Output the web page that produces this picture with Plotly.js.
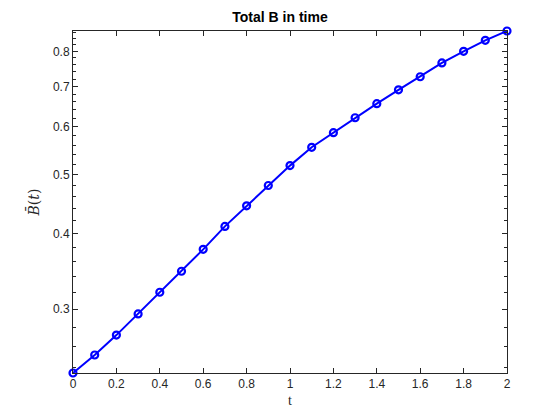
<!DOCTYPE html>
<html>
<head>
<meta charset="utf-8">
<script src="https://cdn.plot.ly/plotly-3.0.1.min.js"></script>
<style>html,body{margin:0;padding:0;background:#fff;}#chart{width:560px;height:420px;}</style>
</head>
<body>
<div id="chart"></div>
<script>
const tValues = [0, 0.1, 0.2, 0.3, 0.4, 0.5, 0.6, 0.7, 0.8, 0.9, 1.0, 1.1, 1.2, 1.3, 1.4, 1.5, 1.6, 1.7, 1.8, 1.9, 2.0];
const bValues = [0.2353, 0.2520, 0.2718, 0.2946, 0.3199, 0.3465, 0.3766, 0.4110, 0.4444, 0.4802, 0.5179, 0.5553, 0.5870, 0.6214, 0.6555, 0.6911, 0.7263, 0.7655, 0.8000, 0.8341, 0.8643];
const xTickVals = [0, 0.2, 0.4, 0.6, 0.8, 1, 1.2, 1.4, 1.6, 1.8, 2];
const xTickText = ['0', '0.2', '0.4', '0.6', '0.8', '1', '1.2', '1.4', '1.6', '1.8', '2'];
const yTickVals = [0.3, 0.4, 0.5, 0.6, 0.7, 0.8];
const yTickText = ['0.3', '0.4', '0.5', '0.6', '0.7', '0.8'];
const yRange = [0.2353, 0.8643];

const trace = {
  x: tValues, y: bValues, type: 'scatter', mode: 'lines+markers',
  line: {color: '#0000ff', width: 2},
  marker: {symbol: 'circle-open', size: 7, color: '#0000ff', line: {color: '#0000ff', width: 2.2}},
  cliponaxis: false, hoverinfo: 'skip'
};

const axisCommon = {
  showline: true, linecolor: '#262626', linewidth: 1, mirror: 'ticks',
  ticks: 'inside', ticklen: 5, tickwidth: 1, tickcolor: '#262626',
  showgrid: false, zeroline: false,
  tickfont: {family: 'Liberation Sans, Arial, sans-serif', size: 12, color: '#262626'}
};

const layout = {
  width: 560, height: 420,
  margin: {l: 73, r: 53, t: 31, b: 47},
  paper_bgcolor: '#ffffff', plot_bgcolor: '#ffffff',
  showlegend: false,
  title: {text: '<b>Total B in time</b>', x: 0.5, xanchor: 'center', y: 1 - 17/420, yanchor: 'middle',
    font: {family: 'Liberation Sans, Arial, sans-serif', size: 14, color: '#000000'}},
  xaxis: Object.assign({}, axisCommon, {
    range: [0, 2], tickmode: 'array', tickvals: xTickVals, ticktext: xTickText,
    title: {text: 't', standoff: 4, font: {family: 'Liberation Serif, Times New Roman, serif', size: 14, color: '#262626'}}
  }),
  yaxis: Object.assign({}, axisCommon, {
    type: 'log', range: [Math.log10(yRange[0]), Math.log10(yRange[1])],
    tickmode: 'array', tickvals: yTickVals, ticktext: yTickText,
    minor: {dtick: 'L0.02', tick0: 0, ticks: 'inside', ticklen: 3, tickcolor: '#262626', showgrid: false},
    title: {text: '<i>B\u0304</i>(<i>t</i>)', standoff: 10, font: {family: 'DejaVu Serif, serif', size: 14, color: '#262626'}}
  })
};

Plotly.newPlot('chart', [trace], layout, {staticPlot: true, displayModeBar: false});
</script>
</body>
</html>
